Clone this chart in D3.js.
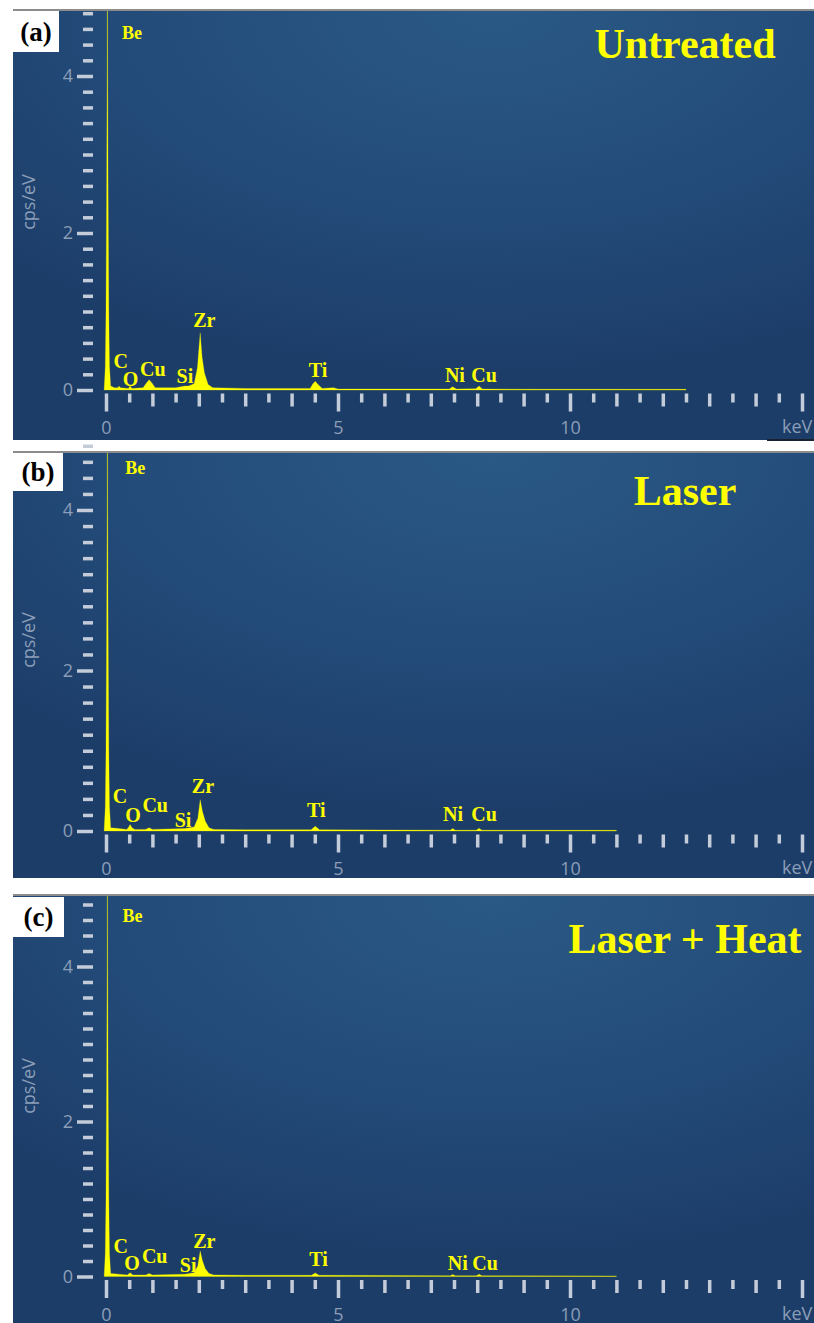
<!DOCTYPE html>
<html>
<head>
<meta charset="utf-8">
<script src="https://cdn.jsdelivr.net/npm/d3@7"></script>
<style>
  html, body { margin: 0; padding: 0; background: #ffffff; }
  svg { display: block; }
</style>
</head>
<body>
<svg id="chart" width="814" height="1323"></svg>
<script>
// ---------- data ----------
const panelIds = ["(a)", "(b)", "(c)"];
const panelTitles = ["Untreated", "Laser", "Laser + Heat"];

// energy axis: ticks every 0.5 keV, labels at 0, 5, 10; unit at 15
const energyTicks = d3.range(0, 15.01, 0.5);
const energyLabels = { 0: "0", 5: "5", 10: "10" };
const energyUnit = "keV";
// count axis: ticks every 0.2 cps/eV, labels at 0, 2, 4
const countTicks = d3.range(0, 4.81, 0.2);
const countLabels = { 0: "0", 2: "2", 4: "4" };
const countUnit = "cps/eV";

// EDS spectra as [keV, cps/eV]
const spectrumUntreated = [
  [-0.04, 0], [-0.015, 0.3], [0.0, 1.0], [0.014, 2.5], [0.024, 4.0], [0.03, 6.2], [0.036, 4.0],
  [0.046, 2.5], [0.06, 1.0], [0.075, 0.3], [0.10, 0.05], [0.18, 0.03], [0.26, 0.03], [0.28, 0.05],
  [0.31, 0.03], [0.48, 0.02], [0.52, 0.05], [0.56, 0.02], [0.80, 0.03], [0.86, 0.08], [0.93, 0.13],
  [0.99, 0.09], [1.06, 0.03], [1.50, 0.03], [1.70, 0.05], [1.78, 0.05], [1.90, 0.08],
  [1.97, 0.28], [2.03, 0.73], [2.07, 0.42], [2.12, 0.22], [2.20, 0.07], [2.30, 0.03],
  [3.00, 0.02], [4.40, 0.02], [4.46, 0.08], [4.51, 0.11], [4.57, 0.07], [4.66, 0.02], [4.90, 0.03],
  [5.00, 0.012], [7.40, 0.012], [7.47, 0.04], [7.55, 0.012], [7.97, 0.015], [8.04, 0.05],
  [8.11, 0.012], [9.00, 0.01], [12.5, 0.008], [12.5, 0]
];
const spectrumLaser = [
  [-0.04, 0], [-0.015, 0.3], [0.0, 1.0], [0.014, 2.5], [0.024, 4.0], [0.03, 6.2], [0.036, 4.0],
  [0.046, 2.5], [0.06, 1.0], [0.075, 0.3], [0.10, 0.04], [0.27, 0.03], [0.45, 0.02], [0.49, 0.05],
  [0.52, 0.08], [0.56, 0.04], [0.62, 0.02], [0.85, 0.02], [0.93, 0.04], [1.00, 0.02],
  [1.70, 0.03], [1.90, 0.05], [1.98, 0.16], [2.03, 0.39], [2.08, 0.24], [2.14, 0.12],
  [2.22, 0.04], [2.32, 0.02], [3.00, 0.015], [4.42, 0.015], [4.51, 0.06], [4.60, 0.015],
  [7.42, 0.01], [7.47, 0.03], [7.53, 0.01], [7.98, 0.01], [8.04, 0.035], [8.10, 0.01],
  [11.0, 0.008], [11.0, 0]
];
const spectrumLaserHeat = [
  [-0.04, 0], [-0.015, 0.3], [0.0, 1.0], [0.014, 2.5], [0.024, 4.0], [0.03, 6.2], [0.036, 4.0],
  [0.046, 2.5], [0.06, 1.0], [0.075, 0.3], [0.10, 0.04], [0.27, 0.03], [0.46, 0.02], [0.52, 0.05],
  [0.58, 0.02], [0.86, 0.02], [0.93, 0.04], [1.00, 0.02], [1.70, 0.03], [1.90, 0.05],
  [1.98, 0.14], [2.03, 0.33], [2.08, 0.20], [2.14, 0.10], [2.22, 0.04], [2.32, 0.02],
  [3.00, 0.015], [4.43, 0.015], [4.51, 0.045], [4.59, 0.015], [7.42, 0.01], [7.47, 0.025],
  [7.53, 0.01], [7.98, 0.01], [8.04, 0.03], [8.10, 0.01], [11.0, 0.008], [11.0, 0]
];

// element labels and their anchors [keV, cps/eV] for each spectrum
const elementNames = ["Be", "C", "O", "Cu", "Si", "Zr", "Ti", "Ni", "Cu"];
const labelsUntreated = [[0.56, 4.47], [0.32, 0.28], [0.53, 0.05], [1.01, 0.18], [1.70, 0.09], [2.12, 0.80], [4.57, 0.17], [7.52, 0.10], [8.15, 0.10]];
const labelsLaser     = [[0.63, 4.45], [0.30, 0.35], [0.58, 0.11], [1.06, 0.24], [1.66, 0.05], [2.09, 0.47], [4.53, 0.17], [7.48, 0.12], [8.15, 0.12]];
const labelsLaserHeat = [[0.57, 4.57], [0.32, 0.30], [0.56, 0.08], [1.05, 0.17], [1.77, 0.06], [2.12, 0.37], [4.58, 0.14], [7.58, 0.08], [8.17, 0.08]];

// ---------- layout ----------
const panels = [
  { top: 11,  bottom: 440,  zeroY: 390,    fourY: 76,    spectrum: spectrumUntreated, labels: labelsUntreated, box: [13, 11, 46, 41],  titleY: 58,  unitY: 202 },
  { top: 453, bottom: 878,  zeroY: 831,    fourY: 510,   spectrum: spectrumLaser,     labels: labelsLaser,     box: [13, 453, 50, 38], titleY: 505, unitY: 640 },
  { top: 896, bottom: 1323, zeroY: 1276.5, fourY: 966.5, spectrum: spectrumLaserHeat, labels: labelsLaserHeat, box: [13, 897, 51, 40], titleY: 953, unitY: 1086 }
];

const svg = d3.select("#chart");
const defs = svg.append("defs");

const grad = defs.append("radialGradient")
  .attr("id", "panelBg")
  .attr("cx", "60%").attr("cy", "0%").attr("r", "85%")
  .attr("gradientUnits", "objectBoundingBox");
grad.append("stop").attr("offset", "0%").attr("stop-color", "#2a5985");
grad.append("stop").attr("offset", "55%").attr("stop-color", "#234b79");
grad.append("stop").attr("offset", "100%").attr("stop-color", "#1d3d69");

const x = d3.scaleLinear().domain([0, 15]).range([106, 802]);

const tickColor = "#c3ccd8";
const labelColor = "#8b9eb8";
const yellow = "#ffff00";
const sansFont = "'Open Sans', 'DejaVu Sans', sans-serif";
const serifFont = "'Liberation Serif', 'Times New Roman', serif";

panels.forEach((p, i) => {
  const g = svg.append("g");
  const y = d3.scaleLinear().domain([0, 4]).range([p.zeroY, p.fourY]);

  // frame line and background
  g.append("rect")
    .attr("x", 13).attr("y", p.top).attr("width", 814 - 13).attr("height", p.bottom - p.top)
    .attr("fill", "url(#panelBg)");
  g.append("line")
    .attr("x1", 13).attr("x2", 814).attr("y1", p.top - 1).attr("y2", p.top - 1)
    .attr("stroke", "#8c8c8c").attr("stroke-width", 2);

  const clipId = "clip" + i;
  defs.append("clipPath").attr("id", clipId)
    .append("rect").attr("x", 13).attr("y", p.top).attr("width", 801).attr("height", p.bottom - p.top);

  // spectrum
  const area = d3.area()
    .x(d => x(d[0]))
    .y0(y(0))
    .y1(d => y(d[1]));
  g.append("path")
    .datum(p.spectrum)
    .attr("clip-path", `url(#${clipId})`)
    .attr("d", area)
    .attr("fill", yellow)
    .attr("stroke", yellow)
    .attr("stroke-width", 0.5)
    .attr("stroke-opacity", 0.5);

  // count axis
  const yAxis = d3.axisLeft(y)
    .tickValues(countTicks)
    .tickSize(10)
    .tickPadding(10)
    .tickFormat(v => {
      const r = Math.round(v);
      return Math.abs(v - r) < 1e-6 && countLabels[r] !== undefined ? countLabels[r] : "";
    });
  const ya = g.append("g").attr("transform", "translate(93,0)").call(yAxis);
  ya.select(".domain").remove();
  ya.selectAll(".tick line")
    .attr("stroke", tickColor)
    .attr("stroke-width", 3.5)
    .attr("x2", v => {
      const r = Math.round(v);
      return (Math.abs(v - r) < 1e-6 && countLabels[r] !== undefined) ? -16 : -10;
    });
  ya.selectAll(".tick text")
    .attr("fill", labelColor)
    .style("font-family", sansFont)
    .style("font-size", "18px");

  // energy axis
  const xAxis = d3.axisBottom(x)
    .tickValues(energyTicks)
    .tickSize(9)
    .tickPadding(19)
    .tickFormat(v => energyLabels[v] !== undefined ? energyLabels[v] : "");
  const xa = g.append("g").attr("transform", `translate(0,${p.zeroY + 3.5})`).call(xAxis);
  xa.select(".domain").remove();
  xa.selectAll(".tick line")
    .attr("stroke", tickColor)
    .attr("stroke-width", 3.5)
    .attr("y2", v => (v % 5 === 0) ? 18 : (v % 1 === 0 ? 13 : 9));
  xa.selectAll(".tick text")
    .attr("fill", labelColor)
    .style("font-family", sansFont)
    .style("font-size", "18px");

  g.append("text")
    .attr("x", 782).attr("y", p.zeroY + 43)
    .attr("fill", labelColor)
    .style("font-family", sansFont)
    .style("font-size", "18px")
    .text(energyUnit);

  g.append("text")
    .attr("transform", `translate(35,${p.unitY}) rotate(-90)`)
    .attr("text-anchor", "middle")
    .attr("fill", labelColor)
    .style("font-family", sansFont)
    .style("font-size", "18px")
    .text(countUnit);

  // element labels
  g.selectAll("text.el")
    .data(p.labels)
    .join("text")
    .attr("class", "el")
    .attr("x", d => x(d[0]))
    .attr("y", d => y(d[1]))
    .attr("text-anchor", "middle")
    .attr("fill", yellow)
    .style("font-family", serifFont)
    .style("font-weight", "bold")
    .style("font-size", (d, k) => k === 0 ? "18px" : "20px")
    .text((d, k) => elementNames[k]);

  // title
  g.append("text")
    .attr("x", 685).attr("y", p.titleY)
    .attr("text-anchor", "middle")
    .attr("fill", yellow)
    .style("font-family", serifFont)
    .style("font-weight", "bold")
    .style("font-size", "42px")
    .text(panelTitles[i]);

  // panel letter
  const [bx, by, bw, bh] = p.box;
  g.append("rect").attr("x", bx).attr("y", by).attr("width", bw).attr("height", bh).attr("fill", "#ffffff");
  g.append("text")
    .attr("x", bx + bw / 2).attr("y", by + bh / 2 + 9)
    .attr("text-anchor", "middle")
    .attr("fill", "#000000")
    .style("font-family", serifFont)
    .style("font-weight", "bold")
    .style("font-size", "27px")
    .text(panelIds[i]);
});

// short dark rule under the first unit label
svg.append("line")
  .attr("x1", 767).attr("x2", 814).attr("y1", 440).attr("y2", 440)
  .attr("stroke", "#1a2232").attr("stroke-width", 2);
</script>
</body>
</html>
